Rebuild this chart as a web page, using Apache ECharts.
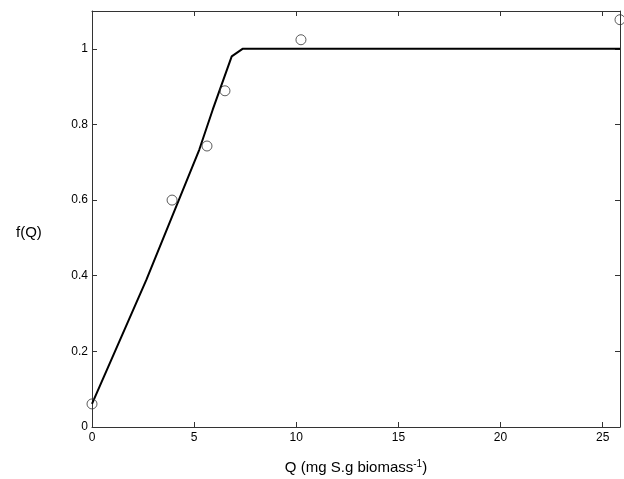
<!DOCTYPE html>
<html><head><meta charset="utf-8">
<script src="https://cdn.jsdelivr.net/npm/echarts@6/dist/echarts.min.js"></script>
<style>html,body{margin:0;padding:0;background:#fff;overflow:hidden}#c{width:624px;height:479px}</style>
</head><body><div id="c"></div>
<script>
const obsQ = [0, 3.92, 5.63, 6.51, 10.23, 25.85];
const obsF = [0.061, 0.60, 0.743, 0.889, 1.024, 1.077];
const fitQ = [0, 2.66, 5.25, 5.91, 6.84, 7.37, 25.85];
const fitF = [0.061, 0.389, 0.733, 0.839, 0.980, 1.0, 1.0];
const xTicks = [0, 5, 10, 15, 20, 25];
const yTicks = [0, 0.2, 0.4, 0.6, 0.8, 1];
const yName = 'f(Q)';

const font = 'Liberation Sans, Arial, sans-serif';
const chart = echarts.init(document.getElementById('c'));
const axisCommon = {
  axisLine: {show: true, onZero: false, lineStyle: {color: '#333', width: 1}},
  axisTick: {show: true, inside: true, length: 5, lineStyle: {color: '#333'}},
  splitLine: {show: false}
};
chart.setOption({
  animation: false,
  title: {text: yName, left: 16, top: 225, padding: 0,
    textStyle: {fontSize: 15, fontWeight: 'normal', fontFamily: font, color: '#000'}},
  grid: {left: 92, right: 4, top: 11, bottom: 52, containLabel: false, outerBoundsMode: 'none'},
  xAxis: [
    Object.assign({type: 'value', min: 0, max: 25.85, interval: 5, position: 'bottom',
      axisLabel: {color: '#000', fontSize: 12, fontFamily: font, margin: 5,
        showMaxLabel: false, formatter: v => xTicks.includes(v) ? String(v) : ''},
      name: '{a|Q (mg S.g biomass}{s|-1}{a|)}', nameLocation: 'middle', nameGap: 32,
      nameTextStyle: {rich: {a: {fontSize: 15, fontFamily: font, color: '#000'},
        s: {fontSize: 10, fontFamily: font, color: '#000', verticalAlign: 'top', padding: [0,0,8,0]}}}
    }, axisCommon),
    Object.assign({type: 'value', min: 0, max: 25.85, interval: 5, position: 'top',
      axisLabel: {show: false}}, axisCommon)
  ],
  yAxis: [
    Object.assign({type: 'value', min: 0, max: 1.1, interval: 0.2, position: 'left',
      axisLabel: {color: '#000', fontSize: 12, fontFamily: font, margin: 4, showMaxLabel: false,
        formatter: v => yTicks.some(t => Math.abs(t - v) < 1e-9) ? String(+v.toFixed(1)) : ''}
    }, axisCommon),
    Object.assign({type: 'value', min: 0, max: 1.1, interval: 0.2, position: 'right',
      axisLabel: {show: false}}, axisCommon)
  ],
  series: [
    {type: 'line', data: fitQ.map((q, i) => [q, fitF[i]]), showSymbol: false, symbol: 'none',
      lineStyle: {color: '#000', width: 2}, clip: false, z: 2},
    {type: 'scatter', data: obsQ.map((q, i) => [q, obsF[i]]), symbol: 'circle', symbolSize: 10,
      itemStyle: {color: 'rgba(255,255,255,0)', borderColor: '#333', borderWidth: 1}, clip: false, z: 3}
  ]
});
</script></body></html>
